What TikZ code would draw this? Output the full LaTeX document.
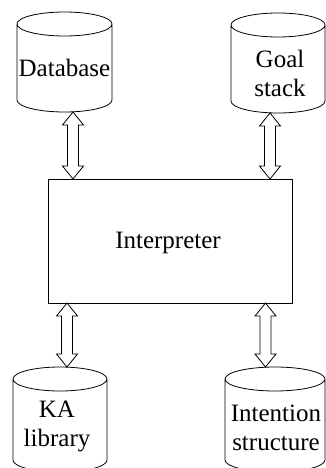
\documentclass[tikz,border=0pt]{standalone}
\usepackage{fontspec}
\setmainfont{Liberation Serif}
\newfontfamily\labelfont{Liberation Serif}
\usetikzlibrary{calc}

\tikzset{
  cylbox/.style={inner sep=0pt, outer sep=0pt, minimum width=#1},
  lbl/.style={font=\labelfont\fontsize{25}{29}\selectfont, inner sep=0pt, align=center},
  outline/.style={draw=black, line width=0.8pt},
  dblarr/.style={draw=black, line width=0.8pt, fill=white, line join=miter},
  procbox/.style={draw=black, line width=0.8pt, inner sep=0pt, outer sep=0pt},
}

% cylinder outline around a frame node #1 of half width #2:
% full top ellipse, sides, lower half-ellipse
\newcommand{\drawcyl}[2]{%
  \draw[outline]
    ($(#1.north)+(0,-12)$) ellipse [x radius=#2pt, y radius=12pt]
    ($(#1.north west)+(0,-12)$) -- ($(#1.south west)+(0,12)$)
      arc [start angle=180, end angle=360, x radius=#2pt, y radius=12pt]
      -- ($(#1.north east)+(0,-12)$);}

% hollow double-headed vertical arrow from tip #1 (top) to tip #2 (bottom)
\newcommand{\dblarrow}[2]{%
  \draw[dblarr] (#1) -- ++(-10.5,-13) -- ++(5,0) -- ($(#2)+(-5.5,13)$) -- ++(-5,0)
    -- (#2) -- ++(10.5,13) -- ++(-5,0) -- ($(#1)+(5.5,-13)$) -- ++(5,0) -- cycle;}

\begin{document}
\begin{tikzpicture}[x=1pt, y=1pt]
  \useasboundingbox (0,0) rectangle (326,-468);
  \clip (0,0) rectangle (326,-468);

  % stores
  \node[cylbox=95, minimum height=100] (db)     at (64.5,-62)   {};
  \node[cylbox=94, minimum height=100] (goal)   at (278,-63)    {};
  \node[cylbox=94, minimum height=105] (ka)     at (60,-419.5)  {};
  \node[cylbox=100, minimum height=105] (intent) at (275,-419.5) {};
  \drawcyl{db}{47.5}
  \drawcyl{goal}{47}
  \drawcyl{ka}{47}
  \drawcyl{intent}{50}

  \node[lbl, anchor=base] (dbt) at (64.5,-77) {Database};
  \node[lbl] (goalt)   at (280,-73)  {Goal\\stack};
  \node[lbl] (kat)     at (57,-426)  {KA\\library};
  \node[lbl] (intentt) at (276,-428) {Intention\\structure};

  % central process
  \node[procbox, minimum width=244, minimum height=124] (interp) at (170,-241) {};
  \node[lbl, anchor=base] (interpt) at (168,-248) {Interpreter};

  % arrow columns
  \coordinate (c1) at (73,0);
  \coordinate (c2) at (270,0);
  \coordinate (c3) at (67,0);
  \coordinate (c4) at (265.5,0);

  \dblarrow{db.south -| c1}{interp.north -| c1}
  \dblarrow{goal.south -| c2}{interp.north -| c2}
  \dblarrow{interp.south -| c3}{ka.north -| c3}
  \dblarrow{interp.south -| c4}{intent.north -| c4}
\end{tikzpicture}
\end{document}
